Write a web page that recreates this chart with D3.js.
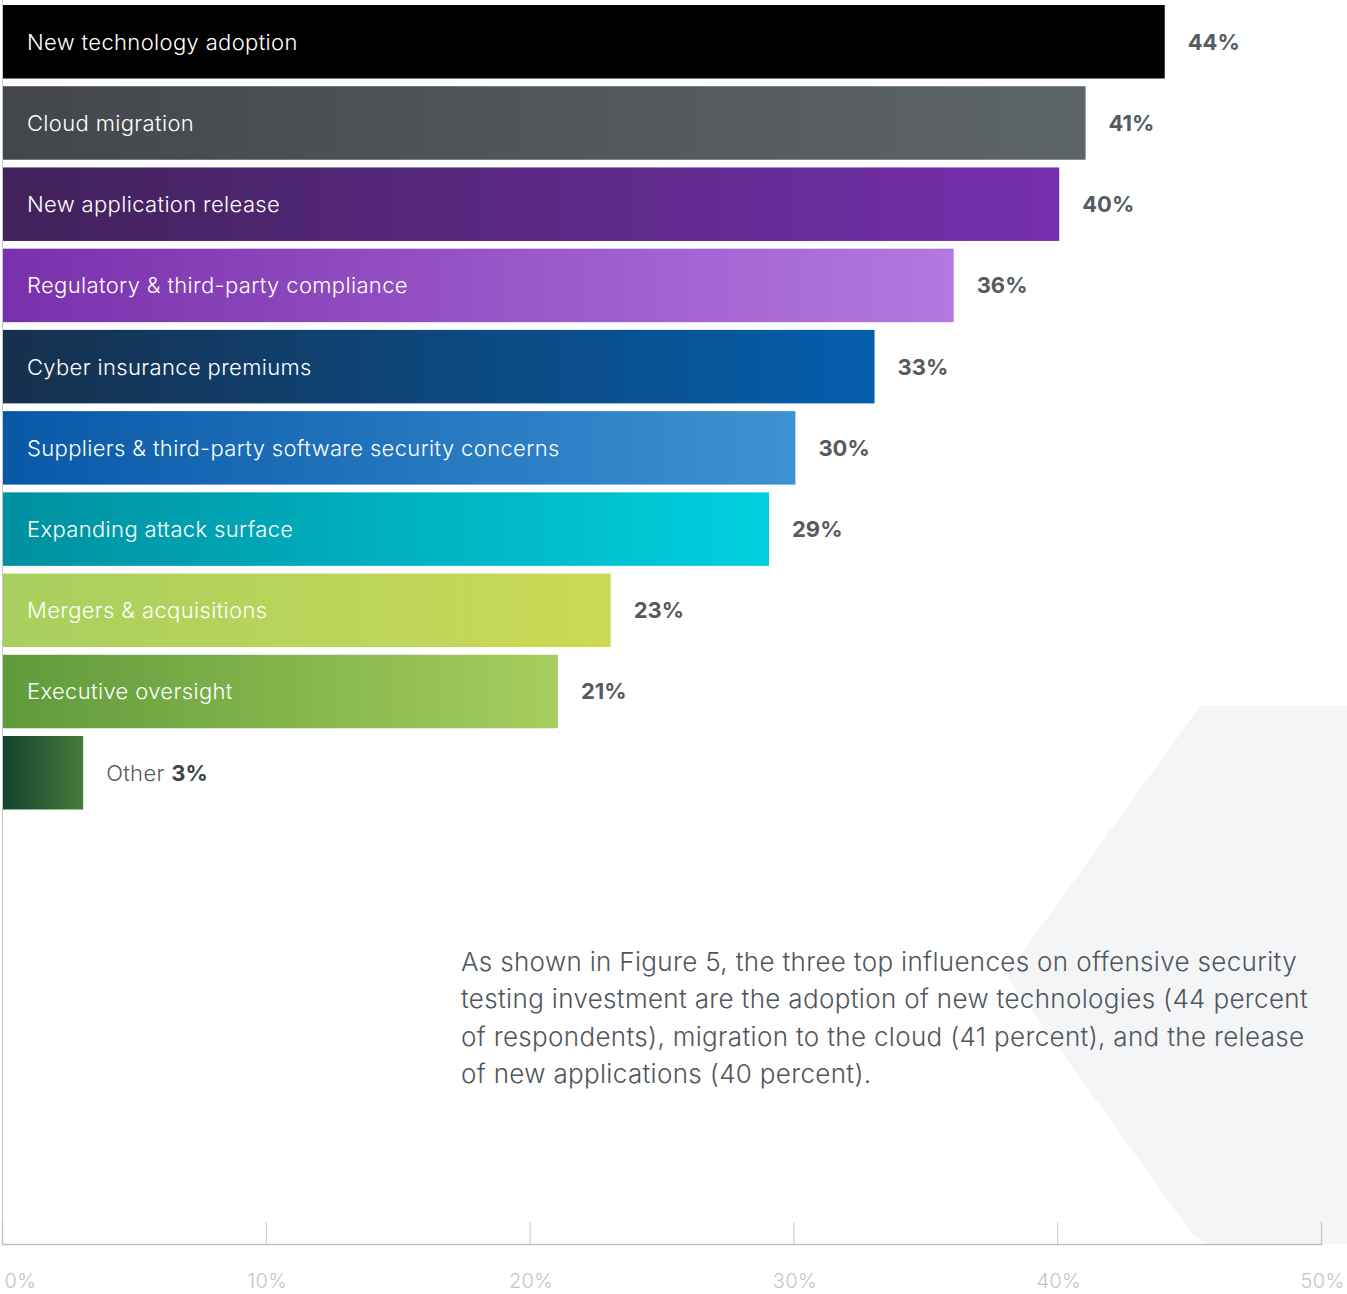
<!DOCTYPE html>
<html>
<head>
<meta charset="utf-8">
<script src="https://cdn.jsdelivr.net/npm/d3@7"></script>
<style>
  html, body { margin: 0; padding: 0; background: #fff; }
  svg { display: block; font-family: Inter, "Noto Sans", sans-serif; }
</style>
</head>
<body>
<svg id="chart" width="1347" height="1294"></svg>
<script>
// Influences on offensive security testing investment (% of respondents)
const categories = [
  "New technology adoption",
  "Cloud migration",
  "New application release",
  "Regulatory & third-party compliance",
  "Cyber insurance premiums",
  "Suppliers & third-party software security concerns",
  "Expanding attack surface",
  "Mergers & acquisitions",
  "Executive oversight",
  "Other"
];
const values = [44, 41, 40, 36, 33, 30, 29, 23, 21, 3];
const gradientStops = [
  ["#000000", "#000000"],
  ["#43474b", "#5e6569"],
  ["#40225a", "#762fae"],
  ["#7a30ac", "#b478e0"],
  ["#16304d", "#045eac"],
  ["#0958a8", "#3e92d3"],
  ["#00909f", "#00d0de"],
  ["#a8cf5e", "#cbd955"],
  ["#5f9a3a", "#a6ce5e"],
  ["#134430", "#477b3b"]
];
const tickValues = [0, 10, 20, 30, 40, 50];
const note = [
  "As shown in Figure 5, the three top influences on offensive security",
  "testing investment are the adoption of new technologies (44 percent",
  "of respondents), migration to the cloud (41 percent), and the release",
  "of new applications (40 percent)."
];

const svg = d3.select("#chart");
const baseY = 1244;

const x = d3.scaleLinear().domain([0, 50]).range([2, 1321]);
const y = d3.scaleBand().domain(categories).range([5, 809.5]).paddingInner(0.095).paddingOuter(0);

// Decorative backdrop shape at lower right
const defs = svg.append("defs");
svg.append("path")
  .attr("d", "M1200,706 L1347,706 L1347,1244 L1215,1244 Q1200,1244 1190,1231 L1006,975 Z")
  .attr("fill", "#f4f5f7");

// Horizontal gradients for each bar
gradientStops.forEach((s, i) => {
  const g = defs.append("linearGradient").attr("id", "grad" + i)
    .attr("x1", "0%").attr("x2", "100%").attr("y1", "0%").attr("y2", "0%");
  g.append("stop").attr("offset", "0%").attr("stop-color", s[0]);
  g.append("stop").attr("offset", "100%").attr("stop-color", s[1]);
});

// Left spine
svg.append("line")
  .attr("x1", 2.5).attr("x2", 2.5).attr("y1", 0).attr("y2", baseY)
  .attr("stroke", "#c5c9cd").attr("stroke-width", 1);

// Bottom axis
const axis = d3.axisBottom(x).tickValues(tickValues).tickFormat(d => d + "%").tickSize(-22).tickPadding(30);
const gAxis = svg.append("g").attr("transform", `translate(0,${baseY})`).call(axis);
gAxis.select(".domain").attr("stroke", "#b9bec3").attr("stroke-width", 1.3);
gAxis.selectAll(".tick line").attr("stroke", "#c5c9cd");
gAxis.selectAll(".tick text")
  .attr("fill", "#c2c6ca").attr("font-size", 20).attr("font-weight", 300)
  .attr("letter-spacing", 0.3)
  .attr("font-family", "Inter, sans-serif")
  .attr("text-anchor", (d, i) => i === 0 ? "start" : "middle")
  .attr("dx", (d, i) => i === 0 ? 2 : 1);
gAxis.selectAll(".tick").filter(d => d === 0).select("line").remove();

// Bars
const bars = svg.append("g");
categories.forEach((c, i) => {
  bars.append("rect")
    .attr("x", x(0) + 1)
    .attr("y", y(c))
    .attr("width", x(values[i]) - x(0) + 1)
    .attr("height", y.bandwidth())
    .attr("fill", `url(#grad${i})`);
});

// Category labels inside bars, values to the right
categories.forEach((c, i) => {
  const cy = y(c) + y.bandwidth() / 2;
  if (c === "Other") {
    const t = svg.append("text")
      .attr("x", x(values[i]) + 25).attr("y", cy).attr("dy", "0.36em")
      .attr("font-size", 22).attr("font-weight", 300).attr("letter-spacing", 0.35)
      .attr("fill", "#555b60");
    t.append("tspan").text(c + " ");
    t.append("tspan").attr("font-weight", 700).attr("letter-spacing", 0).attr("fill", "#3f4448").text(values[i] + "%");
  } else {
    svg.append("text")
      .attr("x", 27).attr("y", cy).attr("dy", "0.36em")
      .attr("font-size", 22).attr("font-weight", 300).attr("letter-spacing", 0.35)
      .attr("fill", "#ffffff")
      .text(c);
    svg.append("text")
      .attr("x", x(values[i]) + 25).attr("y", cy).attr("dy", "0.36em")
      .attr("font-size", 22).attr("font-weight", 700).attr("fill", "#555b60")
      .text(values[i] + "%");
  }
});

// Explanatory paragraph
const para = svg.append("text")
  .attr("x", 461).attr("y", 971)
  .attr("font-size", 26).attr("font-weight", 300).attr("letter-spacing", 0.33)
  .attr("fill", "#50565b");
note.forEach((line, i) => {
  para.append("tspan").attr("x", 461).attr("y", 971 + i * 37.4).text(line);
});
</script>
</body>
</html>
